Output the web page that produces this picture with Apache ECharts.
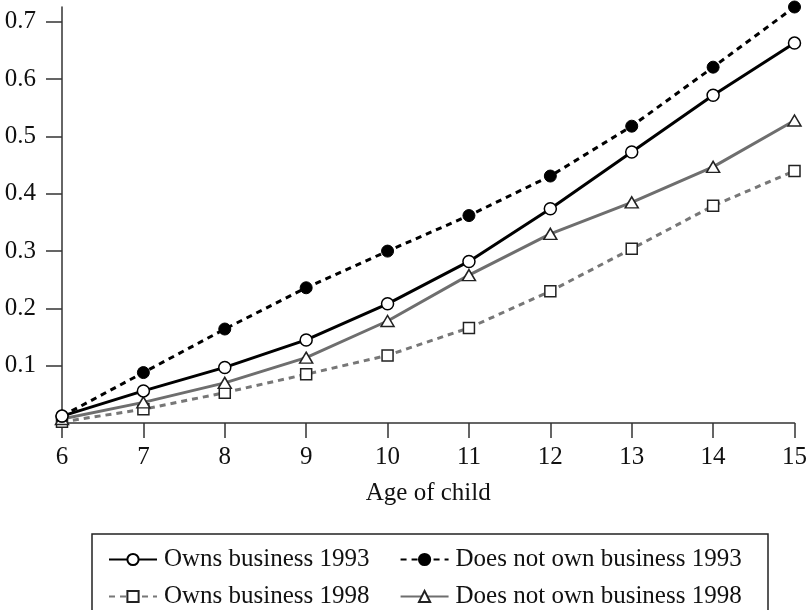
<!DOCTYPE html>
<html lang="en">
<head>
    <meta charset="UTF-8">
    <title>Age of child</title>
    <script src="https://cdn.jsdelivr.net/npm/echarts@6/dist/echarts.min.js"></script>
    <style>
        html, body { margin: 0; padding: 0; background: #fff; }
    </style>
</head>
<body>
<div style="width:810px;height:610px" id="myChart"></div>
<script type="text/javascript">
    // data
    var ages = [6, 7, 8, 9, 10, 11, 12, 13, 14, 15];
    var owns1993 = [0.012, 0.056, 0.097, 0.145, 0.208, 0.282, 0.374, 0.473, 0.572, 0.663];
    var notOwn1993 = [0.012, 0.088, 0.164, 0.236, 0.300, 0.362, 0.431, 0.518, 0.621, 0.726];
    var owns1998 = [0.002, 0.024, 0.053, 0.085, 0.118, 0.166, 0.230, 0.304, 0.379, 0.440];
    var notOwn1998 = [0.007, 0.036, 0.070, 0.114, 0.178, 0.258, 0.330, 0.385, 0.447, 0.528];
    var yTicks = [0.1, 0.2, 0.3, 0.4, 0.5, 0.6, 0.7];

    function pairs(vals) {
        return ages.map(function (a, i) { return [a, vals[i]]; });
    }

    var font = 'Liberation Serif';
    var axisCol = '#333';

    var myChart = echarts.init(document.getElementById('myChart'));
    myChart.setOption({
        animation: false,
        textStyle: { fontFamily: font },
        grid: { left: 62, right: 13, top: 7, bottom: 187, containLabel: false },
        xAxis: {
            type: 'value',
            min: 6, max: 15, interval: 1,
            name: 'Age of child',
            nameLocation: 'middle',
            nameGap: 58,
            nameTextStyle: { fontFamily: font, fontSize: 25, color: '#111' },
            axisLine: { lineStyle: { color: axisCol, width: 1.5 } },
            axisTick: { inside: false, length: 15, lineStyle: { color: axisCol, width: 1.5 } },
            axisLabel: { margin: 22, fontFamily: font, fontSize: 25, color: '#111' },
            splitLine: { show: false }
        },
        yAxis: {
            type: 'value',
            min: 0, max: 0.726,
            axisLine: { show: true, lineStyle: { color: axisCol, width: 1.5 } },
            axisTick: { show: true, inside: false, length: 16, customValues: yTicks,
                lineStyle: { color: axisCol, width: 1.5 } },
            axisLabel: { margin: 26, fontFamily: font, fontSize: 25, color: '#111',
                customValues: yTicks,
                formatter: function (v) { return v.toFixed(1); } },
            splitLine: { show: false }
        },
        legend: [
            {
                left: 103, top: 542,
                itemWidth: 48, itemHeight: 14, itemGap: 30,
                textStyle: { fontFamily: font, fontSize: 25, color: '#111', padding: [0, 0, 0, 2] },
                data: ['Owns business 1993', 'Does not own business 1993']
            },
            {
                left: 103, top: 579,
                itemWidth: 48, itemHeight: 14, itemGap: 30,
                textStyle: { fontFamily: font, fontSize: 25, color: '#111', padding: [0, 0, 0, 2] },
                data: ['Owns business 1998', 'Does not own business 1998']
            }
        ],
        graphic: [{
            type: 'rect',
            shape: { x: 92, y: 534, width: 676, height: 100 },
            style: { fill: 'none', stroke: '#222', lineWidth: 1.5 },
            silent: true
        }],
        series: [
            {
                name: 'Owns business 1998',
                type: 'line',
                data: pairs(owns1998),
                clip: false,
                symbol: 'rect', symbolSize: 11,
                itemStyle: { color: '#fff', borderColor: '#222', borderWidth: 1.5 },
                lineStyle: { color: '#777', width: 3, type: [6, 5] },
                z: 2
            },
            {
                name: 'Does not own business 1998',
                type: 'line',
                data: pairs(notOwn1998),
                clip: false,
                symbol: 'triangle', symbolSize: [13, 11],
                itemStyle: { color: '#fff', borderColor: '#222', borderWidth: 1.5 },
                lineStyle: { color: '#6e6e6e', width: 3, type: 'solid' },
                z: 3
            },
            {
                name: 'Does not own business 1993',
                type: 'line',
                data: pairs(notOwn1993),
                clip: false,
                symbol: 'circle', symbolSize: 12,
                itemStyle: { color: '#000', borderColor: '#000', borderWidth: 1 },
                lineStyle: { color: '#000', width: 3, type: [6, 5] },
                z: 4
            },
            {
                name: 'Owns business 1993',
                type: 'line',
                data: pairs(owns1993),
                clip: false,
                symbol: 'circle', symbolSize: 12,
                itemStyle: { color: '#fff', borderColor: '#000', borderWidth: 1.5 },
                lineStyle: { color: '#000', width: 3, type: 'solid' },
                z: 5
            }
        ]
    });
</script>
</body>
</html>
